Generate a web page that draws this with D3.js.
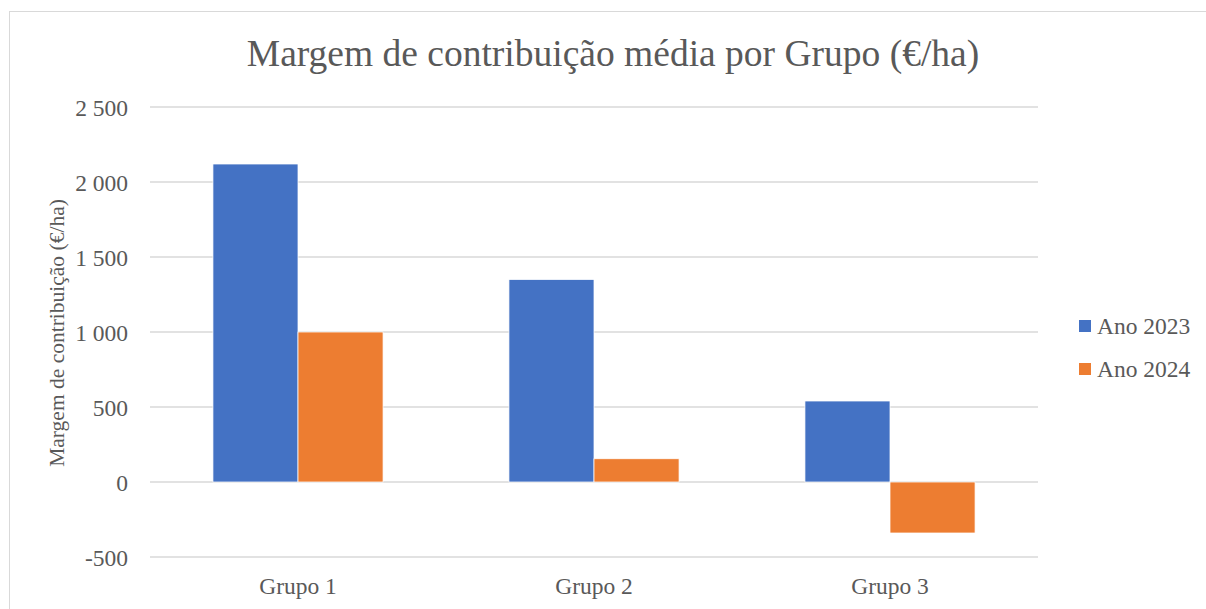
<!DOCTYPE html>
<html lang="pt">
<head>
    <meta charset="UTF-8">
    <title>Margem de contribuição média por Grupo</title>
    <script src="https://d3js.org/d3.v7.min.js"></script>
    <style>
        html, body { margin: 0; padding: 0; background: #fff; }
        svg { display: block; font-family: "Liberation Serif", "Times New Roman", serif; }
        .tick text { fill: #595959; }
    </style>
</head>
<body>
    <svg width="1206" height="609"></svg>
    <script>
        // data
        var groups = ["Grupo 1", "Grupo 2", "Grupo 3"];
        var seriesNames = ["Ano 2023", "Ano 2024"];
        var values2023 = [2120, 1350, 540];
        var values2024 = [1000, 155, -340];
        var yTicks = [-500, 0, 500, 1000, 1500, 2000, 2500];
        var colors = ["#4472C4", "#ED7D31"];

        var svg = d3.select("svg");
        var textColor = "#595959";

        // chart frame (cut by the right and bottom edges)
        svg.append("rect")
            .attr("x", 9.5).attr("y", 11.5)
            .attr("width", 1220).attr("height", 620)
            .attr("fill", "none")
            .attr("stroke", "#d9d9d9")
            .attr("stroke-width", 1);

        var x0 = d3.scaleBand().domain(groups).range([150, 1038]).padding(0);
        var x1 = d3.scaleBand().domain(seriesNames).range([0, x0.bandwidth()])
            .paddingInner(0).paddingOuter(0.74);
        var y = d3.scaleLinear().domain([-500, 2500]).range([557, 107]);

        // gridlines
        svg.append("g").selectAll("line")
            .data(yTicks)
            .enter().append("line")
            .attr("x1", 150).attr("x2", 1038)
            .attr("y1", d => y(d)).attr("y2", d => y(d))
            .attr("stroke", "#d9d9d9")
            .attr("stroke-width", 1.5);

        // y axis labels (space as thousands separator, plain hyphen for minus)
        var fmt = d => (d < 0 ? "-" : "") + d3.format(",")(Math.abs(d)).replace(/,/g, " ");
        var yAxis = d3.axisLeft(y)
            .tickValues(yTicks)
            .tickSize(0)
            .tickPadding(0)
            .tickFormat(fmt);
        var ya = svg.append("g")
            .attr("transform", "translate(128,0)")
            .call(yAxis);
        ya.select(".domain").remove();
        ya.selectAll("text")
            .attr("font-size", 23.5)
            .attr("font-family", "Liberation Serif, serif")
            .attr("dy", "0.35em");

        // bars
        var table = groups.map((g, i) => ({group: g, vals: [values2023[i], values2024[i]]}));
        svg.append("g").selectAll("g")
            .data(table)
            .enter().append("g")
            .attr("transform", d => "translate(" + x0(d.group) + ",0)")
            .selectAll("rect")
            .data(d => d.vals.map((v, j) => ({name: seriesNames[j], value: v, color: colors[j]})))
            .enter().append("rect")
            .attr("x", d => x1(d.name))
            .attr("width", x1.bandwidth())
            .attr("y", d => y(Math.max(0, d.value)))
            .attr("height", d => Math.abs(y(d.value) - y(0)))
            .attr("fill", d => d.color)
            .attr("stroke", "#ffffff")
            .attr("stroke-width", 0.75);

        // category labels
        var xAxis = d3.axisBottom(x0).tickSize(0).tickPadding(0);
        var xa = svg.append("g")
            .attr("transform", "translate(0,594)")
            .call(xAxis);
        xa.select(".domain").remove();
        xa.selectAll("text")
            .attr("font-size", 23.5)
            .attr("font-family", "Liberation Serif, serif")
            .attr("dy", 0);

        // title
        svg.append("text")
            .attr("x", 613).attr("y", 66)
            .attr("text-anchor", "middle")
            .attr("font-size", 37.5)
            .attr("fill", textColor)
            .text("Margem de contribuição média por Grupo (€/ha)");

        // y axis title
        svg.append("text")
            .attr("transform", "translate(64,333)rotate(-90)")
            .attr("text-anchor", "middle")
            .attr("font-size", 21.5)
            .attr("fill", textColor)
            .text("Margem de contribuição (€/ha)");

        // legend
        var legend = svg.append("g").selectAll("g")
            .data(seriesNames)
            .enter().append("g")
            .attr("transform", (d, i) => "translate(1079," + (320 + i * 43) + ")");
        legend.append("rect")
            .attr("width", 12).attr("height", 12)
            .attr("fill", (d, i) => colors[i]);
        legend.append("text")
            .attr("x", 18).attr("y", 14)
            .attr("font-size", 23.5)
            .attr("fill", textColor)
            .text(d => d);
    </script>
</body>
</html>
